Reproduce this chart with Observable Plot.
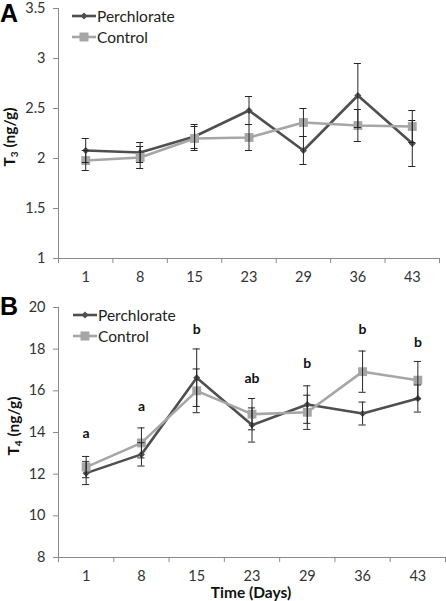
<!DOCTYPE html>
<html><head><meta charset="utf-8">
<script src="https://cdn.jsdelivr.net/npm/d3@7"></script>
<script src="https://cdn.jsdelivr.net/npm/@observablehq/plot@0.6"></script>
<style>
body{margin:0;background:#fff;}
#wrap{position:relative;width:446px;height:601px;font-family:Lato,sans-serif;overflow:hidden;}
.panel{position:absolute;left:0;}
.plabel{position:absolute;font:bold 25px "Liberation Sans",Arial,sans-serif;color:#000;line-height:1;}
.legend{position:absolute;font:15.5px Lato,sans-serif;color:#222;}
.legend .row{display:flex;align-items:center;height:21px;}
.legend svg{display:block;margin-right:1px;}
</style></head><body><div id="wrap"></div>
<script>
const days = ["1","8","15","23","29","36","43"];
const seriesNames = ["Perchlorate","Control"];

const t3Perchlorate    = [2.08, 2.06, 2.22, 2.48, 2.08, 2.63, 2.15];
const t3PerchlorateErr = [0.12, 0.10, 0.12, 0.14, 0.14, 0.32, 0.23];
const t3Control        = [1.98, 2.01, 2.20, 2.21, 2.36, 2.33, 2.32];
const t3ControlErr     = [0.10, 0.11, 0.12, 0.13, 0.14, 0.16, 0.16];
const t3Ticks = [1, 1.5, 2, 2.5, 3, 3.5];

const t4Perchlorate    = [12.05, 12.95, 16.63, 14.36, 15.34, 14.91, 15.63];
const t4PerchlorateErr = [0.55, 0.56, 1.38, 0.82, 0.90, 0.55, 0.65];
const t4Control        = [12.34, 13.50, 16.00, 14.88, 14.97, 16.92, 16.51];
const t4ControlErr     = [0.51, 0.72, 1.05, 0.75, 0.82, 0.99, 0.90];
const t4Ticks = [8, 10, 12, 14, 16, 18, 20];

const t4Letters    = ["a", "a", "b", "ab", "b", "b", "b"];
const t4LetterY    = [13.94, 15.26, 18.96, 16.6, 17.29, 18.96, 18.3];

const perchColor = "#4f4f4f", ctrlColor = "#a6a6a6", errColor = "#262626",
      axisColor = "#8a8a8a", textColor = "#333";

function rows(values, errs) {
  return days.map((d, i) => ({x: i + 0.5, day: d, v: values[i], lo: values[i] - errs[i], hi: values[i] + errs[i]}));
}

function panel(o) {
  const P = rows(o.perch, o.perchErr), C = rows(o.ctrl, o.ctrlErr);
  const capW = 0.065;
  const err = D => [
    Plot.ruleX(D, {x: "x", y1: "lo", y2: "hi", stroke: errColor, strokeWidth: 1}),
    Plot.ruleY(D, {y: "lo", x1: d => d.x - capW, x2: d => d.x + capW, stroke: errColor, strokeWidth: 1}),
    Plot.ruleY(D, {y: "hi", x1: d => d.x - capW, x2: d => d.x + capW, stroke: errColor, strokeWidth: 1})
  ];
  const marks = [
    Plot.ruleX([0], {stroke: axisColor}),
    Plot.ruleY([o.yTicks[0]], {stroke: axisColor}),
    Plot.axisY({ticks: o.yTicks, tickSize: 5, tickPadding: 8, stroke: axisColor, fill: textColor, fontSize: 14.5, label: null, tickFormat: d => String(d)}),
    Plot.axisX({ticks: d3.range(0, days.length + 1), tickSize: 5, tickFormat: () => "", label: null, stroke: axisColor}),
    Plot.axisX({ticks: days.map((d, i) => i + 0.5), tickSize: 0, tickPadding: 13, tickFormat: v => days[Math.floor(v)], label: null, fontSize: 14.5, fill: textColor}),
    Plot.line(P, {x: "x", y: "v", stroke: perchColor, strokeWidth: 2.6}),
    Plot.dot(P, {x: "x", y: "v", symbol: "diamond2", r: 3.2, fill: perchColor}),
    Plot.line(C, {x: "x", y: "v", stroke: ctrlColor, strokeWidth: 2.6}),
    Plot.dot(C, {x: "x", y: "v", symbol: "square", r: 5, fill: ctrlColor}),
    ...err(P), ...err(C)
  ];
  if (o.letters) {
    const L = days.map((d, i) => ({x: i + 0.5, y: o.letterY[i], t: o.letters[i]}));
    marks.push(Plot.text(L, {x: "x", y: "y", text: "t", fontWeight: "bold", fontSize: 14, fill: "#111"}));
  }
  const svg = Plot.plot({
    width: 446, height: o.height,
    marginLeft: 58, marginRight: o.marginRight, marginTop: o.marginTop, marginBottom: o.marginBottom,
    style: {fontFamily: "Lato, sans-serif", background: "#fff", color: textColor},
    x: {type: "linear", domain: [0, days.length]},
    y: {type: "linear", domain: [o.yTicks[0], o.yTicks[o.yTicks.length - 1]]},
    marks
  });
  const s = d3.select(svg);
  const t = s.append("text")
    .attr("transform", `translate(${o.ylabX},${o.ylabY}) rotate(-90)`)
    .attr("text-anchor", "middle")
    .attr("font-family", "Lato, sans-serif").attr("font-weight", "bold").attr("font-size", 15.5).attr("fill", "#111");
  t.append("tspan").text("T");
  t.append("tspan").attr("font-size", 10).attr("dy", 3).text(o.sub);
  t.append("tspan").attr("dy", -3).text(" (ng/g)");
  if (o.xlabel) {
    s.append("text").attr("x", 251).attr("y", o.height - 3).attr("text-anchor", "middle")
      .attr("font-family", "Lato, sans-serif").attr("font-weight", "bold").attr("font-size", 15.5).attr("fill", "#111")
      .text(o.xlabel);
  }
  return svg;
}

function legend(topPx, leftPx) {
  const div = document.createElement("div");
  div.className = "legend";
  div.style.top = topPx + "px"; div.style.left = leftPx + "px";
  const specs = [
    {name: seriesNames[0], color: perchColor, shape: "diamond"},
    {name: seriesNames[1], color: ctrlColor, shape: "square"}
  ];
  for (const sp of specs) {
    const row = document.createElement("div"); row.className = "row";
    const marker = sp.shape === "diamond"
      ? `<path d="M12,2.5 L15.5,6 L12,9.5 L8.5,6Z" fill="${sp.color}"/>`
      : `<rect x="7.5" y="1.5" width="9" height="9" fill="${sp.color}"/>`;
    row.innerHTML = `<svg width="24" height="12"><line x1="0" x2="24" y1="6" y2="6" stroke="${sp.color}" stroke-width="2.6"/>${marker}</svg><span>${sp.name}</span>`;
    div.appendChild(row);
  }
  return div;
}

const wrap = document.getElementById("wrap");

const topPanel = document.createElement("div"); topPanel.className = "panel"; topPanel.style.top = "0px";
topPanel.appendChild(panel({perch: t3Perchlorate, perchErr: t3PerchlorateErr, ctrl: t3Control, ctrlErr: t3ControlErr,
  yTicks: t3Ticks, height: 290, marginTop: 8, marginBottom: 32, marginRight: 7, ylabX: 15, ylabY: 137, sub: "3"}));
wrap.appendChild(topPanel);

const botPanel = document.createElement("div"); botPanel.className = "panel"; botPanel.style.top = "290px";
botPanel.appendChild(panel({perch: t4Perchlorate, perchErr: t4PerchlorateErr, ctrl: t4Control, ctrlErr: t4ControlErr,
  yTicks: t4Ticks, height: 311, marginTop: 17, marginBottom: 44, marginRight: 1, ylabX: 19, ylabY: 136, sub: "4",
  letters: t4Letters, letterY: t4LetterY, xlabel: "Time (Days)"}));
wrap.appendChild(botPanel);

wrap.appendChild(legend(5, 72));
wrap.appendChild(legend(304, 73));

const labA = document.createElement("div"); labA.className = "plabel"; labA.textContent = "A"; labA.style.left = "0px"; labA.style.top = "1px";
const labB = document.createElement("div"); labB.className = "plabel"; labB.textContent = "B"; labB.style.left = "0px"; labB.style.top = "294px";
wrap.appendChild(labA); wrap.appendChild(labB);
</script></body></html>
